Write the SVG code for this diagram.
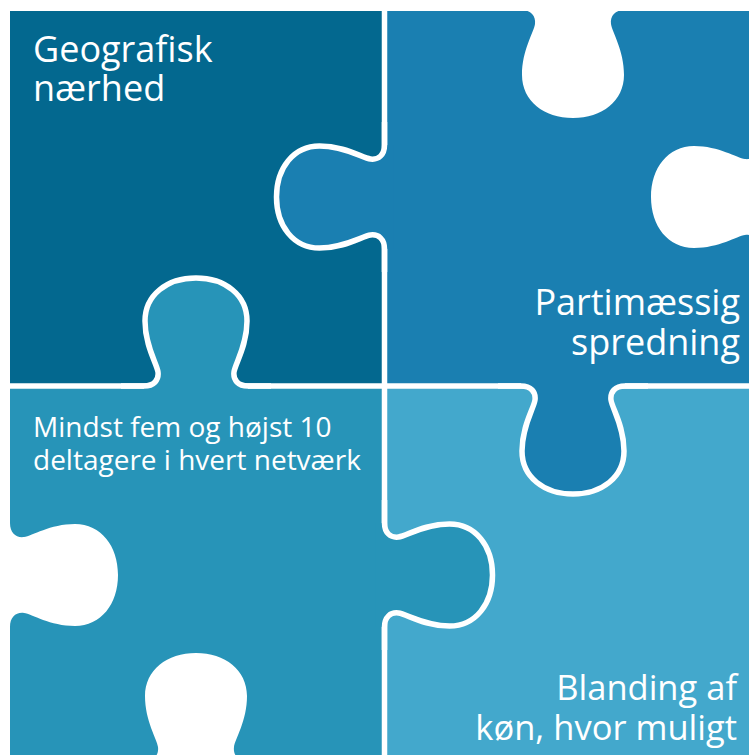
<svg xmlns="http://www.w3.org/2000/svg" width="749" height="755" viewBox="0 0 749 755">
<style>
.tl{fill:#03688f}
.tr{fill:#1a7fb1}
.bl{fill:#2794b8}
.br{fill:#43a8cc}
.hole{fill:#ffffff}
.edge{fill:none;stroke:#ffffff;stroke-width:5.5}
.lbl{font-family:"Open Sans","Noto Sans","Liberation Sans",sans-serif;fill:#ffffff}
.big{font-size:36px}
.brt{font-size:34.5px}
.mid{font-size:28px}
</style>
<defs>
<path id="tab-edge" d="M -75 0 L -52 0 C -42 0 -37 -6 -38 -14 C -39 -22 -51 -40 -51 -65 C -51 -91 -29 -108 0 -108 C 29 -108 51 -91 51 -65 C 51 -40 39 -22 38 -14 C 37 -6 42 0 52 0 L 75 0"/>
<path id="tab-body" d="M -52 0 C -42 0 -37 -6 -38 -14 C -39 -22 -51 -40 -51 -65 C -51 -91 -29 -108 0 -108 C 29 -108 51 -91 51 -65 C 51 -40 39 -22 38 -14 C 37 -6 42 0 52 0 L 52 9 L -52 9 Z"/>
</defs>
<rect width="749" height="755" fill="#ffffff"/>
<g id="piece-top-left">
<rect class="tl" x="10" y="11" width="371.75" height="372.25"/>
<text class="lbl big" x="33" y="62">Geografisk</text>
<text class="lbl big" x="33" y="101">nærhed</text>
</g>
<g id="piece-bottom-right">
<rect class="br" x="387.25" y="388.75" width="361.75" height="366.25"/>
<text class="lbl brt" x="737" y="700" text-anchor="end">Blanding af</text>
<text class="lbl brt" x="737" y="740" text-anchor="end">køn, hvor muligt</text>
</g>
<g id="piece-top-right">
<rect class="tr" x="387.25" y="11" width="361.75" height="372.25"/>
<use href="#tab-body" class="hole" transform="translate(573,10) rotate(180)"/>
<use href="#tab-body" class="hole" transform="translate(759,197) rotate(-90)"/>
<use href="#tab-body" class="tr" transform="translate(384.5,197) rotate(-90)"/>
<use href="#tab-edge" class="edge" transform="translate(384.5,197) rotate(-90)"/>
<use href="#tab-body" class="tr" transform="translate(573,386) rotate(180)"/>
<use href="#tab-edge" class="edge" transform="translate(573,386) rotate(180)"/>
<text class="lbl big" x="740" y="315" text-anchor="end">Partimæssig</text>
<text class="lbl big" x="740" y="355" text-anchor="end">spredning</text>
</g>
<g id="piece-bottom-left">
<rect class="bl" x="10" y="388.75" width="371.75" height="366.25"/>
<use href="#tab-body" class="hole" transform="translate(10,575) rotate(90)"/>
<use href="#tab-body" class="hole" transform="translate(196,761)"/>
<use href="#tab-body" class="bl" transform="translate(196,386)"/>
<use href="#tab-edge" class="edge" transform="translate(196,386)"/>
<use href="#tab-body" class="bl" transform="translate(384.5,575) rotate(90)"/>
<use href="#tab-edge" class="edge" transform="translate(384.5,575) rotate(90)"/>
<text class="lbl mid" x="33" y="437">Mindst fem og højst 10</text>
<text class="lbl mid" x="33" y="470">deltagere i hvert netværk</text>
</g>
</svg>
